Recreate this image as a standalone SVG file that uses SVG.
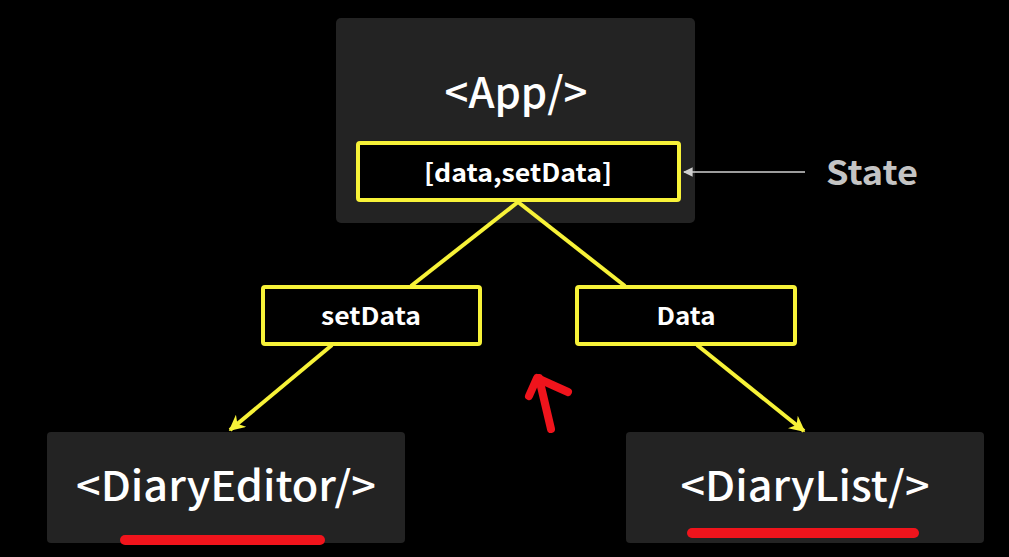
<svg xmlns="http://www.w3.org/2000/svg" width="1009" height="557" viewBox="0 0 1009 557">
<defs>
<style>
.comp{fill:#232323}
.ybox{fill:#000;stroke:#f7f238;stroke-width:4}
.big{font-family:"Noto Sans CJK KR","Noto Sans",sans-serif;fill:#fff;font-weight:500;text-anchor:middle}
.lbl{font-family:"Noto Sans CJK KR","Noto Sans",sans-serif;fill:#fff;font-weight:700;text-anchor:middle}
.conn{stroke:#f7f238;stroke-width:4;fill:none}
.red{stroke:#f0141c;fill:none;stroke-linecap:round;stroke-linejoin:round}
</style>
<marker id="ya" viewBox="0 0 10 10" refX="9" refY="5" markerWidth="4" markerHeight="4" orient="auto" markerUnits="strokeWidth">
<path d="M0,0 L10,5 L0,10 L3,5 z" fill="#f7f238"/>
</marker>
<marker id="ga" viewBox="0 0 10 10" refX="9" refY="5" markerWidth="6" markerHeight="6" orient="auto" markerUnits="strokeWidth">
<path d="M0,0 L10,5 L0,10 z" fill="#d0d0d0"/>
</marker>
</defs>
<rect width="1009" height="557" fill="#000"/>
<g id="app">
<rect class="comp" x="336" y="18" width="359" height="205" rx="5"/>
<text class="big" x="516" y="108" font-size="42" textLength="143" lengthAdjust="spacingAndGlyphs">&lt;App/&gt;</text>
</g>
<g id="state-box">
<rect class="ybox" x="358" y="143" width="321" height="57" rx="2"/>
<text class="lbl" x="518" y="182" font-size="25" font-weight="600" textLength="188" lengthAdjust="spacingAndGlyphs">[data,setData]</text>
</g>
<g id="state-label">
<text x="826" y="185" font-family="'Noto Sans CJK KR','Noto Sans',sans-serif" font-weight="700" font-size="33" fill="#c4c4c4" textLength="92" lengthAdjust="spacingAndGlyphs">State</text>
</g>
<g id="setdata-box">
<rect class="ybox" x="263" y="287" width="217" height="57" rx="2"/>
<text class="lbl" x="371" y="325" font-size="24" textLength="100" lengthAdjust="spacingAndGlyphs">setData</text>
</g>
<g id="data-box">
<rect class="ybox" x="577" y="287" width="218" height="57" rx="2"/>
<text class="lbl" x="686" y="325" font-size="24" textLength="59" lengthAdjust="spacingAndGlyphs">Data</text>
</g>
<g id="diaryeditor">
<rect class="comp" x="47" y="432" width="358" height="111" rx="4"/>
<text class="big" x="226" y="501" font-size="41" textLength="300" lengthAdjust="spacingAndGlyphs">&lt;DiaryEditor/&gt;</text>
</g>
<g id="diarylist">
<rect class="comp" x="626" y="432" width="358" height="111" rx="4"/>
<text class="big" x="805" y="501" font-size="41" textLength="249" lengthAdjust="spacingAndGlyphs">&lt;DiaryList/&gt;</text>
</g>
<g id="connectors">
<line class="conn" x1="518" y1="202" x2="411" y2="286"/>
<line class="conn" x1="518" y1="202" x2="625" y2="286"/>
<line class="conn" x1="332" y1="345" x2="230" y2="430" marker-end="url(#ya)"/>
<line class="conn" x1="697" y1="345" x2="804" y2="431" marker-end="url(#ya)"/>
<line x1="805" y1="172" x2="684" y2="172" stroke="#d0d0d0" stroke-width="1.6" marker-end="url(#ga)"/>
</g>
<g id="annotations">
<path class="red" stroke-width="8" d="M551 429 L539 378"/>
<path class="red" stroke-width="8" d="M529 396 L537 378 Q550 384 568 392"/>
<path class="red" stroke-width="10" d="M125 540 L320 540"/>
<path class="red" stroke-width="10" d="M692 533 L914 533"/>
</g>
</svg>
